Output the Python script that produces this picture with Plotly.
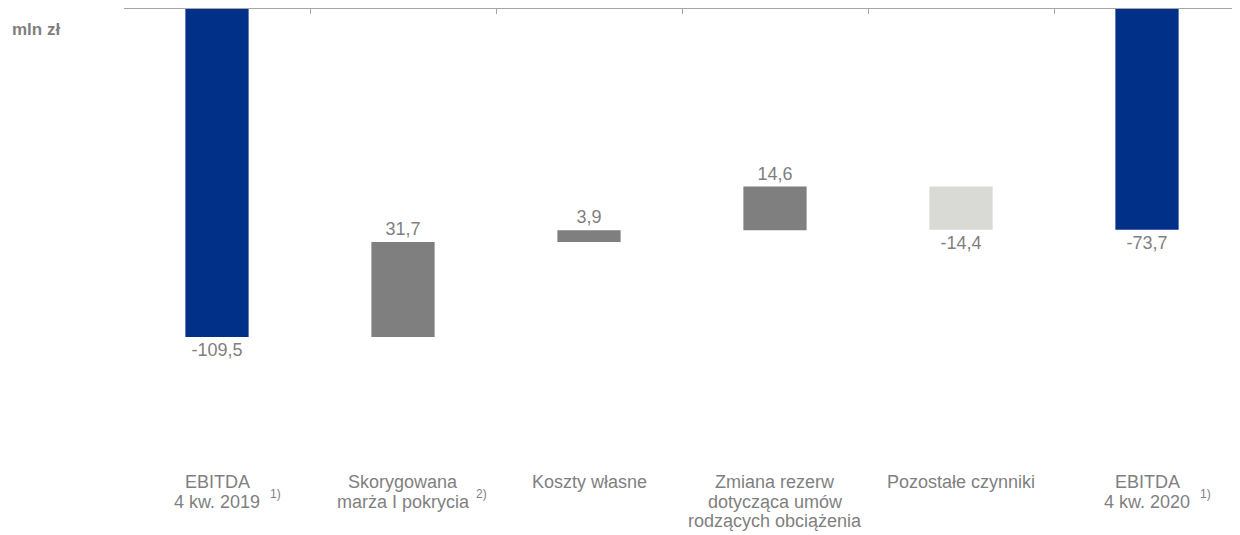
import plotly.graph_objects as go

# data
categories = [
    "EBITDA<br>4 kw. 2019",
    "Skorygowana<br>marża I pokrycia",
    "Koszty własne",
    "Zmiana rezerw<br>dotycząca umów<br>rodzących obciążenia",
    "Pozostałe czynniki",
    "EBITDA<br>4 kw. 2020",
]
values = [-109.5, 31.7, 3.9, 14.6, -14.4, -73.7]
measures = ["absolute", "relative", "relative", "relative", "relative", "absolute"]
footnotes = ["1)", "2)", "", "", "", "1)"]

BLUE = "#003087"
GRAY = "#7f7f7f"
LIGHT = "#d9d9d6"
TEXT = "#7f7f7f"
FONT = "Liberation Sans, Arial, sans-serif"

labels = [f"{v:.1f}".replace(".", ",") for v in values]

fig = go.Figure()

fig.add_trace(
    go.Waterfall(
        x=list(range(len(values))),
        y=values,
        measure=measures,
        text=labels,
        textposition="outside",
        textfont=dict(family=FONT, size=18, color=TEXT),
        width=0.34,
        increasing=dict(marker=dict(color=GRAY)),
        decreasing=dict(marker=dict(color=LIGHT)),
        totals=dict(marker=dict(color=BLUE)),
        connector=dict(visible=False),
        cliponaxis=False,
        hoverinfo="skip",
    )
)

# category labels under the chart, one annotation per line
for i, cat in enumerate(categories):
    lines = cat.split("<br>")
    for j, line in enumerate(lines):
        fig.add_annotation(
            x=i, xref="x", y=0, yref="paper",
            text=line, showarrow=False,
            xanchor="center", yanchor="middle",
            yshift=-22 - 19.5 * j,
            font=dict(family=FONT, size=18, color=TEXT),
        )
    if footnotes[i]:
        fig.add_annotation(
            x=i, xref="x", y=0, yref="paper",
            text=footnotes[i], showarrow=False,
            xanchor="left", yanchor="middle",
            xshift=len(lines[-1]) * 3.33 + 18,
            yshift=-34,
            font=dict(family=FONT, size=12, color=TEXT),
        )

# unit label in the top-left corner
fig.add_annotation(
    x=-114 / 1116, xref="paper", xanchor="left",
    y=1 - 21 / 451, yref="paper", yanchor="middle",
    text="<b>mln zł</b>", showarrow=False,
    font=dict(family=FONT, size=17, color=TEXT),
)

# page body adds an 8px margin, so the figure is shrunk by that amount
fig.update_layout(
    width=1232,
    height=527,
    margin=dict(l=116, r=0, t=1, b=75),
    paper_bgcolor="white",
    plot_bgcolor="white",
    showlegend=False,
    xaxis=dict(
        type="category",
        side="top",
        range=[-0.5, 5.5],
        showline=True,
        linecolor="#a6a6a6",
        linewidth=2,
        ticks="inside",
        tickson="boundaries",
        ticklen=5,
        tickcolor="#a6a6a6",
        showticklabels=False,
        showgrid=False,
        zeroline=False,
    ),
    yaxis=dict(
        range=[-150.6, 0],
        visible=False,
        showgrid=False,
        zeroline=False,
    ),
)

fig.write_html("out.html")
